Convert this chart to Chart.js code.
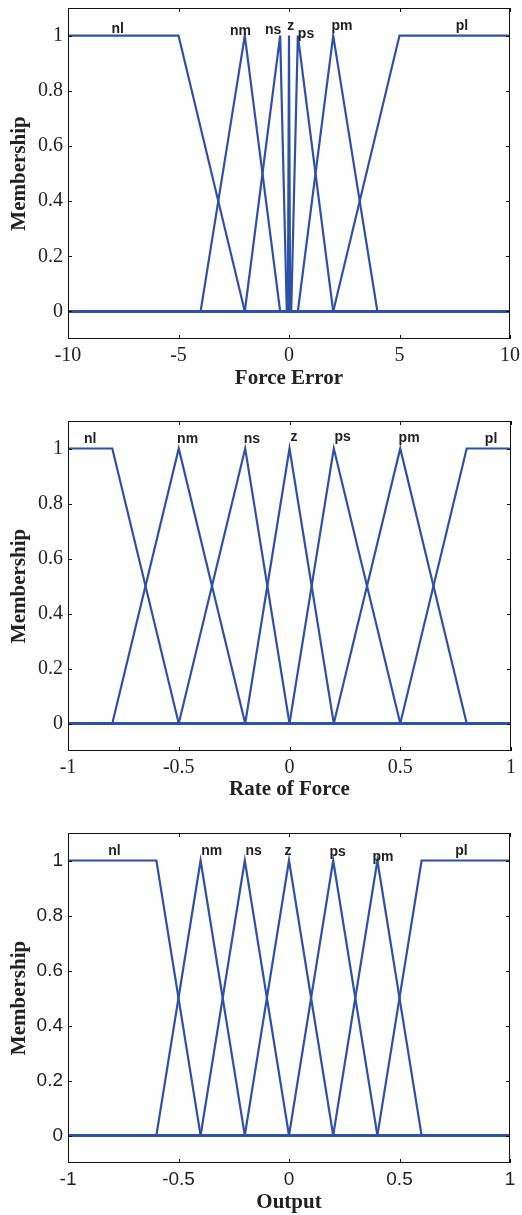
<!DOCTYPE html>
<html lang="en">
<head>
<meta charset="UTF-8" />
<title>Membership functions</title>
<style>
  body { margin: 0; background: #fff; }
  .panel { position: absolute; left: 0; width: 522px; }
</style>
<script src="https://cdn.jsdelivr.net/npm/chart.js"></script>
</head>
<body>
<div class="panel" style="top:0;height:400px"><canvas id="c1"></canvas></div>
<div class="panel" style="top:400px;height:405px"><canvas id="c2"></canvas></div>
<div class="panel" style="top:805px;height:410px"><canvas id="c3"></canvas></div>

<script>
const setNames = ["nl", "nm", "ns", "z", "ps", "pm", "pl"];

// trapezoid breakpoints [a, b, c, d]: 0 at a, 1 from b to c, 0 again at d
const forceErrorSets = [
  [-10, -10, -5, -2], [-4, -2, -2, -0.4], [-2, -0.4, -0.4, -0.1], [-0.05, 0, 0, 0.05],
  [0.1, 0.4, 0.4, 2], [0.4, 2, 2, 4], [2, 5, 10, 10]
];
const rateSets = [
  [-1, -1, -0.8, -0.5], [-0.8, -0.5, -0.5, -0.2], [-0.5, -0.2, -0.2, 0], [-0.2, 0, 0, 0.2],
  [0, 0.2, 0.2, 0.5], [0.2, 0.5, 0.5, 0.8], [0.5, 0.8, 1, 1]
];
const outputSets = [
  [-1, -1, -0.6, -0.4], [-0.6, -0.4, -0.4, -0.2], [-0.4, -0.2, -0.2, 0], [-0.2, 0, 0, 0.2],
  [0, 0.2, 0.2, 0.4], [0.2, 0.4, 0.4, 0.6], [0.4, 0.6, 1, 1]
];

const forceErrorTicks = [-10, -5, 0, 5, 10];
const unitTicks = [-1, -0.5, 0, 0.5, 1];
const memberTicks = [0, 0.2, 0.4, 0.6, 0.8, 1];

// where each set name is written (data units)
const forceErrorLabelX = [-7.75, -2.2, -0.72, 0.08, 0.77, 2.4, 7.83];
const forceErrorLabelY = [1.024, 1.015, 1.018, 1.033, 1.005, 1.033, 1.036];
const rateLabelX = [-0.9, -0.46, -0.17, 0.02, 0.24, 0.54, 0.91];
const rateLabelY = [1.033, 1.033, 1.033, 1.04, 1.04, 1.037, 1.033];
const outputLabelX = [-0.79, -0.35, -0.16, -0.005, 0.22, 0.425, 0.78];
const outputLabelY = [1.035, 1.035, 1.035, 1.035, 1.032, 1.013, 1.035];

const lineColor = "#2f50a8";
const textColor = "#222";

function trapezoid(p, lo, hi) {
  const [a, b, c, d] = p;
  const pts = [];
  if (a > lo) pts.push({ x: lo, y: 0 });
  if (b > a) pts.push({ x: a, y: 0 });
  pts.push({ x: b, y: 1 });
  if (c > b) pts.push({ x: c, y: 1 });
  if (d > c) pts.push({ x: d, y: 0 });
  if (hi > d) pts.push({ x: hi, y: 0 });
  return pts;
}

const frame = {
  id: "frame",
  afterDraw(chart, args, opts) {
    const { ctx, chartArea: a, scales: { x, y } } = chart;
    ctx.save();
    ctx.strokeStyle = "#111";
    ctx.lineWidth = 1;
    ctx.strokeRect(Math.round(a.left) + 0.5, Math.round(a.top) + 0.5,
      Math.round(a.width) - 1, Math.round(a.height) - 1);
    ctx.beginPath();
    x.ticks.forEach((t) => {
      const px = Math.round(x.getPixelForValue(t.value)) + 0.5;
      ctx.moveTo(px, a.bottom); ctx.lineTo(px, a.bottom - 4);
      ctx.moveTo(px, a.top); ctx.lineTo(px, a.top + 4);
    });
    y.ticks.forEach((t) => {
      const py = Math.round(y.getPixelForValue(t.value)) + 0.5;
      ctx.moveTo(a.left, py); ctx.lineTo(a.left + 4, py);
      ctx.moveTo(a.right, py); ctx.lineTo(a.right - 4, py);
    });
    ctx.stroke();

    ctx.fillStyle = textColor;
    ctx.font = "bold 14px 'Liberation Sans', Arial, sans-serif";
    ctx.textAlign = "center";
    ctx.textBaseline = "middle";
    setNames.forEach((n, i) => {
      ctx.fillText(n, x.getPixelForValue(opts.lx[i]), y.getPixelForValue(opts.ly[i]));
    });
    ctx.restore();
  }
};

function makeChart(id, sets, lo, hi, xTicks, title, lx, ly, cfg) {
  const tickFont = { family: cfg.tickFamily, size: cfg.tickSize };
  const titleFont = { family: "'Liberation Serif', 'Times New Roman', serif", size: 21, weight: "bold", lineHeight: 1.2 };
  new Chart(document.getElementById(id), {
    type: "line",
    data: {
      datasets: sets.map((p, i) => ({
        label: setNames[i],
        data: trapezoid(p, lo, hi),
        borderColor: lineColor,
        borderWidth: 2.2,
        pointRadius: 0,
        tension: 0,
        fill: false
      }))
    },
    options: {
      responsive: true,
      maintainAspectRatio: false,
      animation: false,
      events: [],
      layout: { padding: { top: cfg.top, right: cfg.right, left: 0, bottom: 0 } },
      plugins: {
        legend: { display: false },
        tooltip: { enabled: false },
        frame: { lx: lx, ly: ly }
      },
      scales: {
        x: {
          type: "linear",
          min: lo,
          max: hi,
          afterBuildTicks: (s) => { s.ticks = xTicks.map((v) => ({ value: v })); },
          afterFit: (s) => { s.height = cfg.xHeight; s.paddingLeft = 0; s.paddingRight = 0; },
          grid: { display: false, drawTicks: false },
          border: { display: false },
          ticks: { font: tickFont, color: textColor, padding: 5, maxRotation: 0,
                   callback: (v) => String(v) },
          title: {
            display: true, text: title, color: textColor, font: titleFont,
            padding: { top: 0, bottom: cfg.titlePad }
          }
        },
        y: {
          min: -0.1,
          max: 1.1,
          afterBuildTicks: (s) => { s.ticks = memberTicks.map((v) => ({ value: v })); },
          afterFit: (s) => { s.width = 68; s.paddingTop = 0; s.paddingBottom = 0; },
          grid: { display: false, drawTicks: false },
          border: { display: false },
          ticks: { font: tickFont, color: textColor, padding: 5, callback: (v) => String(v) },
          title: {
            display: true, text: "Membership", color: textColor, font: titleFont,
            padding: { top: 7, bottom: 0 }
          }
        }
      }
    },
    plugins: [frame]
  });
}

const serif = "'Liberation Serif', 'Times New Roman', serif";
const sans = "'Liberation Sans', Arial, sans-serif";

makeChart("c1", forceErrorSets, -10, 10, forceErrorTicks, "Force Error", forceErrorLabelX, forceErrorLabelY,
  { top: 8, right: 12, xHeight: 61, titlePad: 9, tickFamily: serif, tickSize: 20 });
makeChart("c2", rateSets, -1, 1, unitTicks, "Rate of Force", rateLabelX, rateLabelY,
  { top: 21, right: 11, xHeight: 54, titlePad: 3, tickFamily: serif, tickSize: 20 });
makeChart("c3", outputSets, -1, 1, unitTicks, "Output", outputLabelX, outputLabelY,
  { top: 28, right: 12, xHeight: 52, titlePad: 0, tickFamily: sans, tickSize: 19 });
</script>
</body>
</html>
